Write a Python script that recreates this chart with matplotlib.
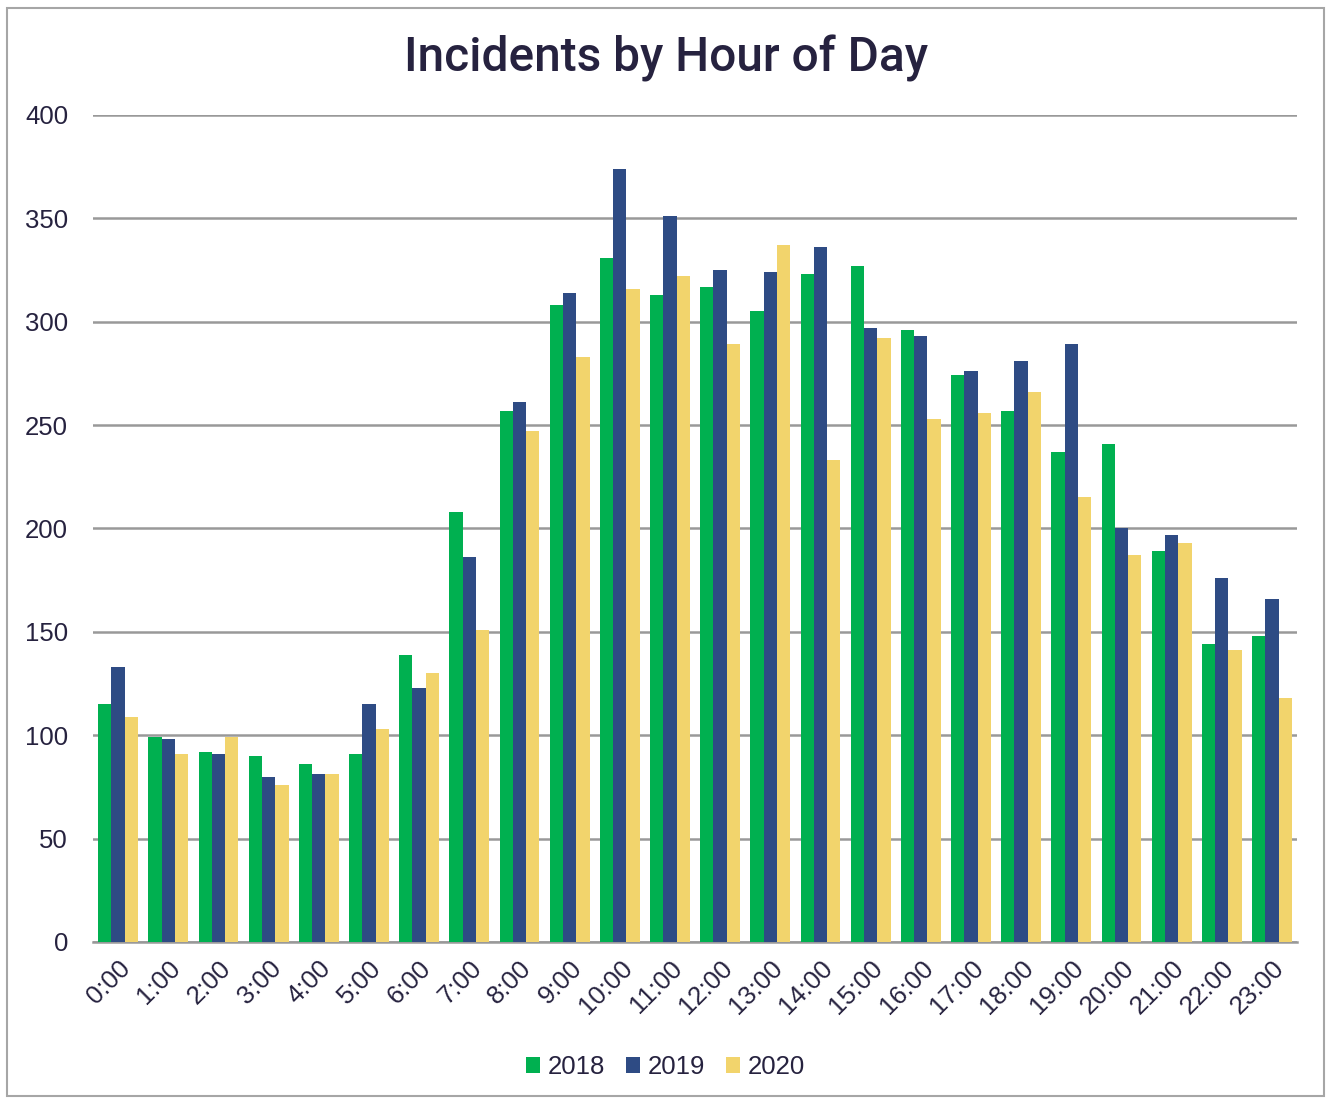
import numpy as np
import matplotlib.pyplot as plt
from matplotlib.patches import Rectangle

# hours of the day
hours = [f"{h}:00" for h in range(24)]

# incidents per hour for each year
y2018 = [115, 99, 92, 90, 86, 91, 139, 208, 257, 308, 331, 313,
         317, 305, 323, 327, 296, 274, 257, 237, 241, 189, 144, 148]
y2019 = [133, 98, 91, 80, 81, 115, 123, 186, 261, 314, 374, 351,
         325, 324, 336, 297, 293, 276, 281, 289, 200, 197, 176, 166]
y2020 = [109, 91, 99, 76, 81, 103, 130, 151, 247, 283, 316, 322,
         289, 337, 233, 292, 253, 256, 266, 215, 187, 193, 141, 118]

years = ["2018", "2019", "2020"]
colors = ["#00B050", "#2E4B84", "#F2D46C"]
text_color = "#26223F"

plt.rcParams['font.family'] = ['Liberation Sans', 'DejaVu Sans']

fig = plt.figure(figsize=(13.31, 10.99), dpi=100)
ax = fig.add_axes([0.0699, 0.1429, 0.9046, 0.7525])

# gray frame around the whole chart
fig.patches.append(Rectangle((0.005, 0.003), 0.990, 0.990, transform=fig.transFigure,
                             fill=False, edgecolor="#A6A6A6", linewidth=1.5))

x = np.arange(len(hours))
w = 0.265
for i, (vals, c, lab) in enumerate(zip([y2018, y2019, y2020], colors, years)):
    ax.bar(x + (i - 1) * w, vals, width=w, color=c, label=lab, zorder=3)

ax.set_xlim(-0.5, 23.5)
ax.set_ylim(0, 400)
ax.set_yticks(range(0, 401, 50))
ax.yaxis.grid(True, color="#999999", linewidth=1.8, zorder=0)
ax.set_axisbelow(True)

for s in ["top", "right", "left"]:
    ax.spines[s].set_visible(False)
ax.spines["bottom"].set_color("#999999")
ax.spines["bottom"].set_linewidth(1.8)

ax.set_xticks(x)
ax.set_xticklabels(hours, rotation=45, ha="right", rotation_mode="anchor")
ax.tick_params(axis="both", length=0, labelsize=18.5, labelcolor=text_color)
ax.tick_params(axis="y", pad=18)
ax.tick_params(axis="x", pad=10)

fig.suptitle("Incidents by Hour of Day", y=0.968, fontsize=34.5, color=text_color,
             family=["Roboto", "DejaVu Sans"], fontweight="medium")

leg = fig.legend(loc="center", bbox_to_anchor=(0.5, 0.029), ncol=3, frameon=False,
                 fontsize=18.5, handlelength=0.55, handleheight=0.55, handletextpad=0.3,
                 columnspacing=0.8)
for t in leg.get_texts():
    t.set_color(text_color)

fig.savefig("out.png", dpi=100)
